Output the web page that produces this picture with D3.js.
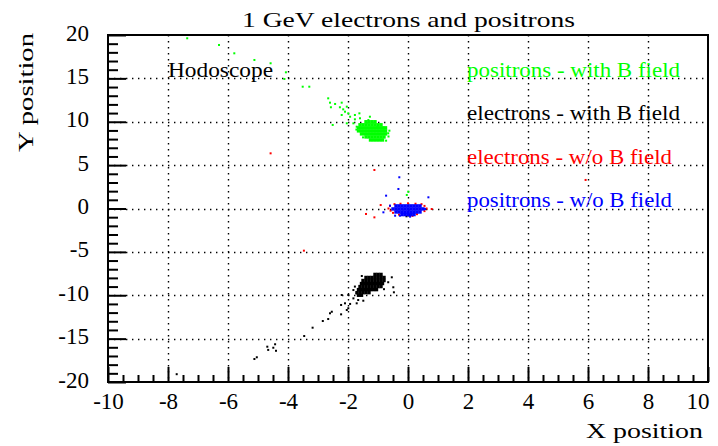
<!DOCTYPE html>
<html>
<head>
<meta charset="utf-8">
<script src="https://cdn.jsdelivr.net/npm/d3@7"></script>
<style>
  html, body { margin: 0; padding: 0; background: #fff; }
  svg { display: block; }
</style>
</head>
<body>
<svg id="chart" width="718" height="446"></svg>
<script>
// ---- data -----------------------------------------------------------
const titleText = "1 GeV electrons and positrons";
const xAxisTitle = "X position";
const yAxisTitle = "Y position";

const xTickValues = [-10, -8, -6, -4, -2, 0, 2, 4, 6, 8, 10];
const xTickLabels = ["-10", "-8", "-6", "-4", "-2", "0", "2", "4", "6", "8", "10"];
const yTickValues = [-20, -15, -10, -5, 0, 5, 10, 15, 20];
const yTickLabels = ["-20", "-15", "-10", "-5", "0", "5", "10", "15", "20"];

const seriesNames = [
  "positrons - with B field",
  "electrons - with B field",
  "electrons - w/o B field",
  "positrons - w/o B field"
];
const detectorLabel = "Hodoscope";

// positrons with B field: dense spot
const greenCore = [
  [-1.4,10.0],[-1.3,10.0],[-1.2,10.0],[-1.1,10.0],
  [-1.6,9.65],[-1.5,9.65],[-1.4,9.65],[-1.3,9.65],[-1.2,9.65],[-1.1,9.65],[-1.0,9.65],[-0.9,9.65],
  [-1.65,9.3],[-1.55,9.3],[-1.45,9.3],[-1.35,9.3],[-1.25,9.3],[-1.15,9.3],[-1.05,9.3],[-0.95,9.3],[-0.85,9.3],[-0.75,9.3],
  [-1.65,8.95],[-1.55,8.95],[-1.45,8.95],[-1.35,8.95],[-1.25,8.95],[-1.15,8.95],[-1.05,8.95],[-0.95,8.95],[-0.85,8.95],[-0.75,8.95],
  [-1.55,8.6],[-1.45,8.6],[-1.35,8.6],[-1.25,8.6],[-1.15,8.6],[-1.05,8.6],[-0.95,8.6],[-0.85,8.6],[-0.75,8.6],
  [-1.4,8.25],[-1.3,8.25],[-1.2,8.25],[-1.1,8.25],[-1.0,8.25],[-0.9,8.25],[-0.8,8.25],
  [-1.25,7.9],[-1.15,7.9],[-1.05,7.9],[-0.95,7.9],[-0.85,7.9]
];
// positrons with B field: halo and tail
const greenScatter = [
  [-7.36,19.62],[-6.3,18.85],[-5.79,17.89],[-5.12,17.12],[-4.58,16.74],
  [-4.07,15.7],[-4.12,14.93],[-3.51,14.04],[-3.29,14.04],
  [-2.66,12.7],[-2.6,12.2],[-2.43,12.05],[-2.21,12.2],[-2.57,11.67],[-2.27,11.67],
  [-2.16,11.43],[-2.1,11.16],[-2.04,11.74],[-2.21,10.78],[-1.99,10.97],[-1.93,10.58],
  [-1.77,10.78],[-1.62,10.97],[-1.77,10.28],[-1.82,9.82],[-1.6,10.4],[-1.71,9.43],
  [-2.51,9.63],[-2.04,9.82],[-1.27,10.58],[-1.32,10.2],[-1.02,9.43],[-0.82,9.24],
  [-0.62,8.97],[-0.66,8.67],[-0.73,7.82],[-1.72,9.1],[-1.5,8.2],[-0.65,8.3],
  [0.01,1.94],[-0.04,1.56]
];

// electrons with B field: dense spot
const blackCore = [
  [-1.1,-7.6],[-1.0,-7.6],[-0.9,-7.6],
  [-1.4,-7.95],[-1.3,-7.95],[-1.2,-7.95],[-1.1,-7.95],[-1.0,-7.95],[-0.9,-7.95],[-0.8,-7.95],
  [-1.5,-8.3],[-1.4,-8.3],[-1.3,-8.3],[-1.2,-8.3],[-1.1,-8.3],[-1.0,-8.3],[-0.9,-8.3],[-0.8,-8.3],
  [-1.55,-8.65],[-1.45,-8.65],[-1.35,-8.65],[-1.25,-8.65],[-1.15,-8.65],[-1.05,-8.65],[-0.95,-8.65],[-0.85,-8.65],
  [-1.6,-9.0],[-1.5,-9.0],[-1.4,-9.0],[-1.3,-9.0],[-1.2,-9.0],[-1.1,-9.0],[-1.0,-9.0],[-0.9,-9.0],
  [-1.65,-9.35],[-1.55,-9.35],[-1.45,-9.35],[-1.35,-9.35],[-1.25,-9.35],[-1.15,-9.35],[-1.05,-9.35],
  [-1.7,-9.7],[-1.6,-9.7],[-1.5,-9.7],[-1.4,-9.7],[-1.3,-9.7],
  [-1.65,-10.0],[-1.55,-10.0]
];
// electrons with B field: halo and tail
const blackScatter = [
  [-1.54,-7.78],[-0.54,-7.93],[-0.66,-8.5],[-0.49,-9.08],[-0.47,-9.66],[-0.8,-9.3],
  [-1.82,-9.4],[-1.77,-9.0],[-1.71,-9.78],[-1.99,-9.97],[-2.21,-9.97],[-1.82,-10.36],
  [-1.49,-10.63],[-1.66,-10.55],[-1.71,-10.93],[-1.93,-11.0],[-2.1,-10.93],[-2.23,-11.12],
  [-1.99,-11.5],[-2.04,-11.7],[-2.54,-11.9],[-2.6,-12.08],[-2.23,-12.2],[-2.66,-12.74],
  [-2.84,-12.97],[-3.18,-13.74],[-3.46,-14.7],[-4.43,-15.65],[-4.49,-16.05],[-4.66,-16.3],
  [-4.4,-16.4],[-4.69,-15.93],[-5.04,-17.15],[-5.12,-17.35],[-7.71,-19.1],
  [-0.1,-0.63],[-0.05,-0.9],[0.05,-0.75]
];

// electrons without B field
const redPoints = [
  [-0.6,0.3],[-0.65,0.0],[-0.58,-0.25],[-0.5,-0.5],[0.55,0.3],[0.62,0.0],[0.55,-0.3],
  [-0.25,0.55],[0.0,0.6],[0.25,0.55],[-0.45,0.5],[0.45,0.5],[-0.3,-0.7],[0.3,-0.65],
  [0.79,-0.06],[-0.91,0.4],[-1.12,-1.02],[-1.4,-0.63],[0.15,-0.85],
  [-1.12,4.44],[-4.58,6.36],[-3.47,-4.86],[5.92,3.29]
];

// positrons without B field: dense spot
const blueCore = [
  [-0.4,0.3],[-0.3,0.3],[-0.2,0.3],[-0.1,0.3],[0.0,0.3],[0.1,0.3],[0.2,0.3],[0.3,0.3],[0.4,0.3],
  [-0.5,-0.05],[-0.4,-0.05],[-0.3,-0.05],[-0.2,-0.05],[-0.1,-0.05],[0.0,-0.05],[0.1,-0.05],[0.2,-0.05],[0.3,-0.05],[0.4,-0.05],[0.5,-0.05],
  [-0.4,-0.4],[-0.3,-0.4],[-0.2,-0.4],[-0.1,-0.4],[0.0,-0.4],[0.1,-0.4],[0.2,-0.4],[0.3,-0.4],[0.4,-0.4],
  [-0.2,-0.7],[-0.1,-0.7],[0.0,-0.7],[0.1,-0.7],[0.2,-0.7]
];
// positrons without B field: halo
const blueScatter = [
  [-0.29,3.6],[-0.32,2.25],[-0.73,1.48],[0.68,1.29],[-0.6,0.33],[-0.82,-0.44],
  [-0.43,-0.83],[-0.27,-0.83],[0.57,-0.06],[0.07,-0.94]
];

// ---- layout ---------------------------------------------------------
const frame = { left: 108, right: 708, top: 35, bottom: 382 };
const FONT = "'Liberation Serif', 'DejaVu Serif', 'Times New Roman', serif";
const colors = { green: "#00ff00", black: "#000000", red: "#ff0000", blue: "#0000ff" };

const svg = d3.select("#chart");
const x = d3.scaleLinear().domain([-10, 10]).range([frame.left, frame.right]);
const y = d3.scaleLinear().domain([-20, 20]).range([frame.bottom, frame.top]);

// dotted grid at the major ticks
const grid = svg.append("g")
  .attr("stroke", "#000").attr("stroke-width", 1.4).attr("stroke-dasharray", "1.4,4.6");
grid.selectAll("line.gx")
  .data(xTickValues.filter(v => v > -10 && v < 10))
  .join("line").attr("class", "gx")
  .attr("x1", d => Math.round(x(d)) + 0.5).attr("x2", d => Math.round(x(d)) + 0.5)
  .attr("y1", frame.top).attr("y2", frame.bottom);
grid.selectAll("line.gy")
  .data(yTickValues.filter(v => v > -20 && v < 20))
  .join("line").attr("class", "gy")
  .attr("y1", d => Math.round(y(d)) + 0.5).attr("y2", d => Math.round(y(d)) + 0.5)
  .attr("x1", frame.left).attr("x2", frame.right);

// markers
function drawPoints(data, color, size) {
  svg.append("g").selectAll("rect")
    .data(data)
    .join("rect")
    .attr("x", d => x(d[0]) - size / 2)
    .attr("y", d => y(d[1]) - size / 2)
    .attr("width", size)
    .attr("height", size)
    .attr("fill", color);
}
drawPoints(greenScatter, colors.green, 2);
drawPoints(greenCore, colors.green, 3.4);
drawPoints(blackScatter, colors.black, 2);
drawPoints(blackCore, colors.black, 3.4);
drawPoints(redPoints, colors.red, 2);
drawPoints(blueScatter, colors.blue, 2);
drawPoints(blueCore, colors.blue, 3.4);

// axes: ticks point into the frame
const tickStyle = g => {
  g.select(".domain").remove();
  g.selectAll(".tick line").attr("stroke", "#000").attr("stroke-width", 2);
};

const xMinor = d3.range(-10, 10.001, 0.5).filter(v => Math.abs(v % 2) > 1e-9);
svg.append("g").attr("transform", `translate(0,${frame.bottom})`)
  .call(d3.axisBottom(x).tickValues(xMinor).tickSize(-7).tickFormat(""))
  .call(tickStyle);
const xAxis = svg.append("g").attr("transform", `translate(0,${frame.bottom})`)
  .call(d3.axisBottom(x).tickValues(xTickValues).tickSize(-15)
        .tickFormat((d, i) => xTickLabels[i]))
  .call(tickStyle);
xAxis.selectAll(".tick text")
  .attr("y", 27).attr("dy", null)
  .attr("font-family", FONT).attr("font-size", 23).attr("fill", "#000")
  .attr("text-anchor", (d, i) => i === xTickValues.length - 1 ? "end" : "middle")
  .attr("x", (d, i) => i === xTickValues.length - 1 ? 1 : 0);

const yMinor = d3.range(-20, 20.001, 1).filter(v => Math.abs(v % 5) > 1e-9);
svg.append("g").attr("transform", `translate(${frame.left},0)`)
  .call(d3.axisLeft(y).tickValues(yMinor).tickSize(-10).tickFormat(""))
  .call(tickStyle);
const yAxis = svg.append("g").attr("transform", `translate(${frame.left},0)`)
  .call(d3.axisLeft(y).tickValues(yTickValues).tickSize(-18)
        .tickFormat((d, i) => yTickLabels[i]))
  .call(tickStyle);
yAxis.selectAll(".tick text")
  .attr("x", -19).attr("dy", 5)
  .attr("font-family", FONT).attr("font-size", 23).attr("fill", "#000")
  .attr("text-anchor", "end");

// frame
svg.append("rect")
  .attr("x", frame.left).attr("y", frame.top)
  .attr("width", frame.right - frame.left).attr("height", frame.bottom - frame.top)
  .attr("fill", "none").attr("stroke", "#000").attr("stroke-width", 2);

// title and axis titles
svg.append("text")
  .attr("x", (frame.left + frame.right) / 2 + 0.5).attr("y", 27)
  .attr("text-anchor", "middle")
  .attr("font-family", FONT).attr("font-size", 21)
  .attr("textLength", 333).attr("lengthAdjust", "spacingAndGlyphs")
  .text(titleText);

svg.append("text")
  .attr("x", 703).attr("y", 438)
  .attr("text-anchor", "end")
  .attr("font-family", FONT).attr("font-size", 22)
  .attr("textLength", 117).attr("lengthAdjust", "spacingAndGlyphs")
  .text(xAxisTitle);

svg.append("text")
  .attr("transform", "translate(33,33) rotate(-90)")
  .attr("text-anchor", "end")
  .attr("font-family", FONT).attr("font-size", 22)
  .attr("textLength", 119).attr("lengthAdjust", "spacingAndGlyphs")
  .text(yAxisTitle);

// in-plot annotations
const seriesColors = [colors.green, colors.black, colors.red, colors.blue];
const seriesWidths = [213, 213, 205, 205];
const seriesAnchorY = [15, 10, 5, 0];
svg.append("g").selectAll("text")
  .data(seriesNames)
  .join("text")
  .attr("x", x(2) - 1)
  .attr("y", (d, i) => y(seriesAnchorY[i]) - 1.5)
  .attr("fill", (d, i) => seriesColors[i])
  .attr("font-family", FONT).attr("font-size", 21)
  .attr("textLength", (d, i) => seriesWidths[i]).attr("lengthAdjust", "spacingAndGlyphs")
  .text(d => d);

svg.append("text")
  .attr("x", x(-8)).attr("y", y(15) - 1.5)
  .attr("font-family", FONT).attr("font-size", 21)
  .attr("textLength", 105).attr("lengthAdjust", "spacingAndGlyphs")
  .text(detectorLabel);
</script>
</body>
</html>
